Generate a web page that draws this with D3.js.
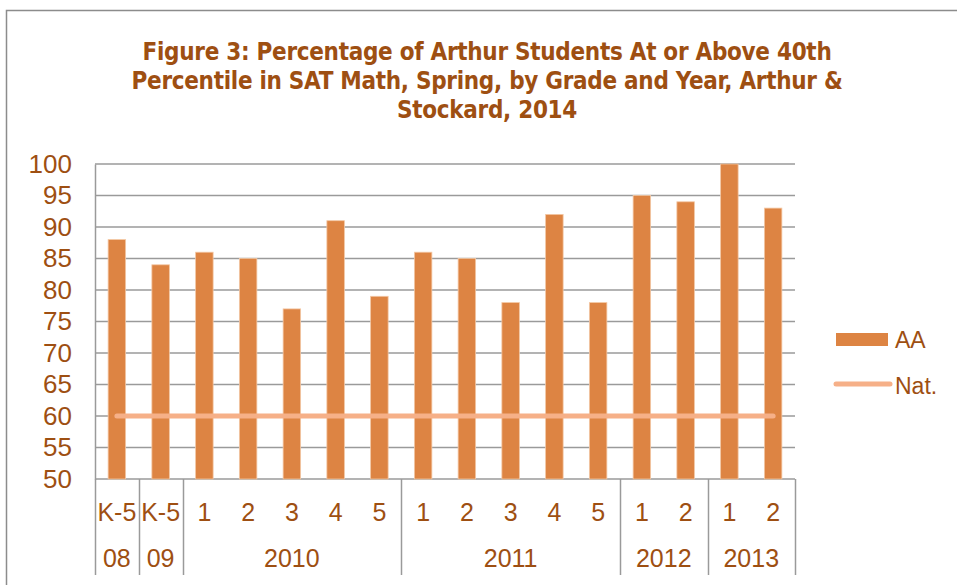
<!DOCTYPE html>
<html>
<head>
<meta charset="utf-8">
<script src="https://cdn.jsdelivr.net/npm/d3@7"></script>
<style>
  body { margin: 0; background: #fff; }
  svg { display: block; }
  text { font-family: 'Liberation Sans', Arial, sans-serif; fill: #9e4f12; }
</style>
</head>
<body>
<svg id="chart" width="957" height="585"></svg>
<script>
// category labels (two levels) and values
const grades = ['K-5', 'K-5', '1', '2', '3', '4', '5', '1', '2', '3', '4', '5', '1', '2', '1', '2']
const years = ['08', '09', '2010', '2010', '2010', '2010', '2010', '2011', '2011', '2011', '2011', '2011', '2012', '2012', '2013', '2013']
const aaValues = [88, 84, 86, 85, 77, 91, 79, 86, 85, 78, 92, 78, 95, 94, 100, 93]
const natValues = [60, 60, 60, 60, 60, 60, 60, 60, 60, 60, 60, 60, 60, 60, 60, 60]
const yTicks = [50, 55, 60, 65, 70, 75, 80, 85, 90, 95, 100]
const titleLines = [
	'Figure 3: Percentage of Arthur Students At or Above 40th',
	'Percentile in SAT Math, Spring, by Grade and Year, Arthur &',
	'Stockard, 2014'
]
const seriesNames = ['AA', 'Nat.']

const barColor = '#dd8443'
const lineColor = '#f6b088'
const gridColor = '#9a9a9a'

const svg = d3.select('#chart')
const plot = { left: 95, right: 795, top: 164, bottom: 479 }
const ids = grades.map((d, i) => i)

// outer frame
svg.append('rect')
	.attr('x', 6.5).attr('y', 10.5)
	.attr('width', 1000).attr('height', 1000)
	.attr('fill', 'none')
	.attr('stroke', '#8c8c8c')
	.attr('stroke-width', 1.5)

// title
svg.append('g')
	.selectAll('text')
	.data(titleLines)
	.enter()
	.append('text')
	.attr('x', 487)
	.attr('y', (d, i) => 60 + i * 29)
	.attr('text-anchor', 'middle')
	.style('font-family', "'DejaVu Sans Condensed', sans-serif")
	.style('font-size', '24px')
	.style('font-weight', 'bold')
	.style('letter-spacing', '-0.3px')
	.text(d => d)

// scales
const x = d3.scaleBand()
	.domain(ids)
	.range([plot.left, plot.right])
	.paddingInner(0.6)
	.paddingOuter(0.3)

const y = d3.scaleLinear()
	.domain([50, 100])
	.range([plot.bottom, plot.top])

// grid lines
svg.append('g')
	.selectAll('line')
	.data(yTicks)
	.enter()
	.append('line')
	.attr('x1', plot.left).attr('x2', plot.right)
	.attr('y1', d => y(d)).attr('y2', d => y(d))
	.attr('stroke', gridColor)
	.attr('stroke-width', 1.5)

// y axis
const yAxis = svg.append('g')
	.attr('transform', `translate(${plot.left},0)`)
	.call(d3.axisLeft(y).tickValues(yTicks).tickSize(0).tickPadding(23))
yAxis.select('.domain').attr('stroke', gridColor).attr('stroke-width', 1.5)
yAxis.selectAll('text')
	.style('font-size', '26px')
	.attr('fill', '#9e4f12')

// bars
svg.append('g')
	.selectAll('rect')
	.data(aaValues)
	.enter()
	.append('rect')
	.attr('x', (d, i) => x(i))
	.attr('y', d => y(d))
	.attr('width', x.bandwidth())
	.attr('height', d => y(50) - y(d))
	.attr('fill', barColor)
	.attr('stroke', '#f3c7a4')
	.attr('stroke-width', 0.8)

// national line
const line = d3.line()
	.x((d, i) => x(i) + x.bandwidth() / 2)
	.y(d => y(d))

svg.append('path')
	.datum(natValues)
	.attr('d', line)
	.attr('fill', 'none')
	.attr('stroke', lineColor)
	.attr('stroke-width', 5)
	.attr('stroke-linecap', 'round')

// category axis: grade labels
const cx = (i) => x(i) + x.bandwidth() / 2
svg.append('g')
	.selectAll('text')
	.data(grades)
	.enter()
	.append('text')
	.attr('x', (d, i) => cx(i))
	.attr('y', 521)
	.attr('text-anchor', 'middle')
	.style('font-size', '25px')
	.text(d => d)

// year groups
const groups = []
years.forEach((yr, i) => {
	const last = groups[groups.length - 1]
	if (last && last.year === yr) last.end = i
	else groups.push({ year: yr, start: i, end: i })
})

const step = x.step()
const edgeX = (i) => cx(i) - step / 2

svg.append('g')
	.selectAll('text')
	.data(groups)
	.enter()
	.append('text')
	.attr('x', d => (cx(d.start) + cx(d.end)) / 2)
	.attr('y', 567)
	.attr('text-anchor', 'middle')
	.style('font-size', '25px')
	.text(d => d.year)

// separators between groups
const seps = groups.map(d => edgeX(d.start)).concat([edgeX(groups[groups.length - 1].end) + step])
svg.append('g')
	.selectAll('line')
	.data(seps)
	.enter()
	.append('line')
	.attr('x1', d => Math.round(d) + 0.5).attr('x2', d => Math.round(d) + 0.5)
	.attr('y1', plot.bottom).attr('y2', 575)
	.attr('stroke', gridColor)
	.attr('stroke-width', 1.5)

// legend
const legend = svg.append('g').attr('transform', 'translate(836,0)')
legend.append('rect')
	.attr('x', 0).attr('y', 333)
	.attr('width', 52).attr('height', 13)
	.attr('fill', barColor)
legend.append('line')
	.attr('x1', 0).attr('x2', 54)
	.attr('y1', 384).attr('y2', 384)
	.attr('stroke', lineColor)
	.attr('stroke-width', 5)
	.attr('stroke-linecap', 'round')
legend.selectAll('text')
	.data(seriesNames)
	.enter()
	.append('text')
	.attr('x', 59)
	.attr('y', (d, i) => 348 + i * 46)
	.style('font-size', '23px')
	.text(d => d)
</script>
</body>
</html>
